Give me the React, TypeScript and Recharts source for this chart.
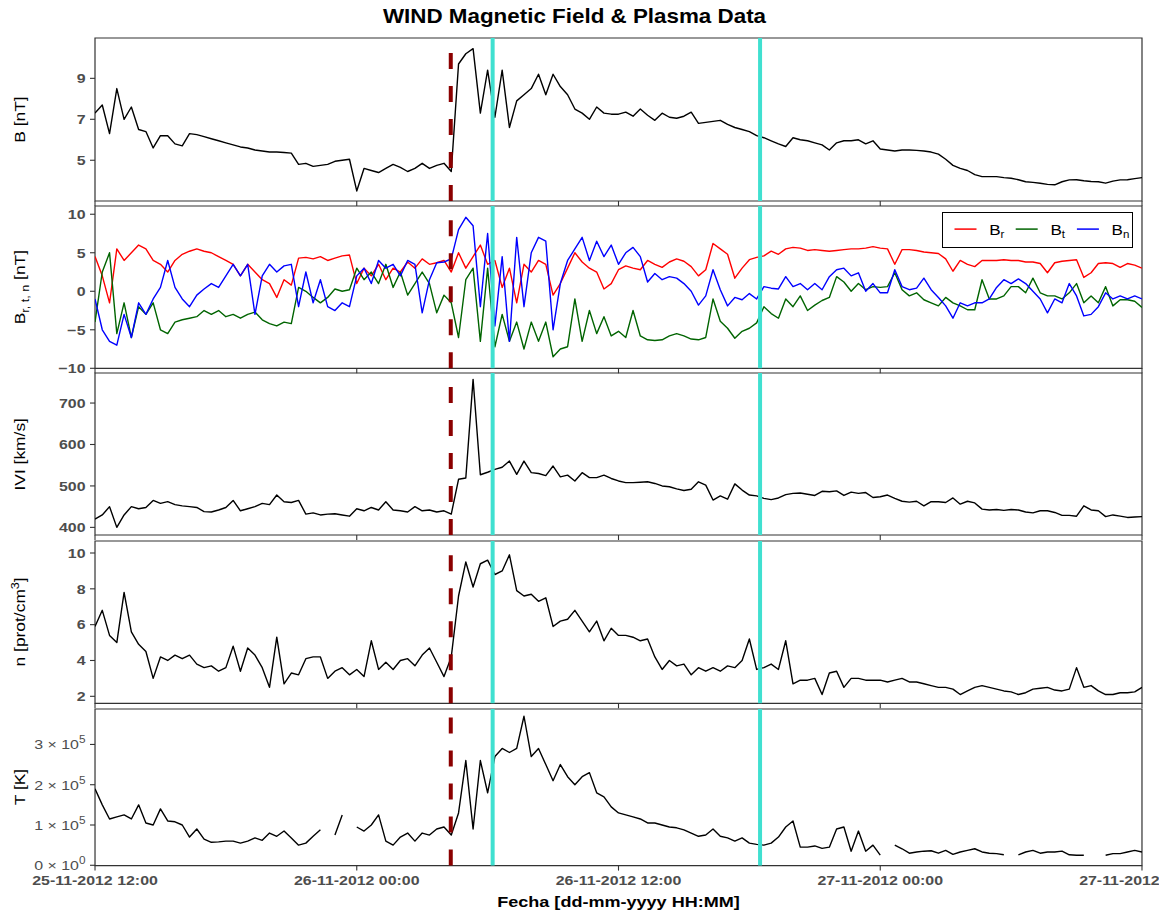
import React from 'react';
import { LineChart, Line, XAxis, YAxis, ReferenceLine, ReferenceArea, Legend } from 'recharts';

// ---------- time axis (hours after 25-11-2012 12:00, 20-minute samples) ----------
const STEP_HOURS = 1 / 3;
const X_TICKS = [0, 12, 24, 36, 48];
const X_TICK_LABELS = ['25-11-2012 12:00', '26-11-2012 00:00', '26-11-2012 12:00', '27-11-2012 00:00', '27-11-2012 12:00'];
const SHOCK_H = 16.31;
const ICME_START_H = 18.23;
const ICME_END_H = 30.49;

// ---------- series values ----------
const B_MAG = [
  7.3, 7.7, 6.3, 8.5, 7.0, 7.6, 6.5, 6.4, 5.6, 6.2,
  6.2, 5.8, 5.7, 6.3, 6.25, 6.15, 6.05, 5.95, 5.85, 5.75,
  5.65, 5.6, 5.5, 5.45, 5.4, 5.4, 5.38, 5.35, 4.8, 4.85,
  4.7, 4.75, 4.8, 4.95, 5.0, 5.05, 3.5, 4.6, 4.5, 4.4,
  4.6, 4.8, 4.65, 4.45, 4.6, 4.85, 4.6, 4.75, 4.85, 4.45,
  9.7, 10.2, 10.45, 7.3, 9.4, 7.1, 9.4, 6.6, 7.9, 8.2,
  8.5, 9.2, 8.2, 9.2, 8.6, 8.2, 7.5, 7.3, 7.0, 7.6,
  7.3, 7.25, 7.25, 7.35, 7.15, 7.5, 7.2, 6.95, 7.3, 7.1,
  7.05, 7.15, 7.35, 6.8, 6.85, 6.9, 6.95, 6.75, 6.6, 6.5,
  6.4, 6.2, 6.1, 5.95, 5.8, 5.67, 6.1, 6.0, 5.95, 5.85,
  5.75, 5.5, 5.85, 5.95, 5.95, 6.0, 5.8, 5.95, 5.55, 5.5,
  5.45, 5.5, 5.5, 5.48, 5.45, 5.4, 5.3, 5.05, 4.75, 4.6,
  4.5, 4.3, 4.2, 4.2, 4.2, 4.15, 4.12, 4.05, 3.95, 3.92,
  3.88, 3.82, 3.8, 3.95, 4.04, 4.05, 4.0, 3.96, 3.95, 3.88,
  3.98, 4.04, 4.05, 4.1, 4.15,
];

const B_R = [
  4.5, 2.0, -1.5, 5.5, 4.0, 5.0, 6.0, 5.5, 4.0, 3.5,
  2.5, 4.0, 4.8, 5.2, 5.5, 5.2, 5.0, 4.5, 4.0, 3.5,
  2.0, 3.5, 2.5, 1.5, 1.0, -0.8, 1.5, 0.8, 4.3, 4.4,
  4.2, 4.5, 4.0, 4.3, 4.6, 4.7, 1.0, 3.0, 2.0, 3.5,
  1.5, 3.0, 2.5, 3.8, 3.0, 4.2, 3.5, 3.7, 4.0, 2.5,
  5.0, 3.0, 4.5, 6.0, 3.5, 4.0, 0.5, 3.0, -1.5, 3.5,
  2.5, 4.0, 3.5, -0.5, 1.0, 3.0, 5.0, 3.8, 3.0, 2.5,
  0.3, 1.0, 2.8, 3.3, 3.0, 2.8, 4.0, 3.5, 3.1, 3.8,
  4.2, 3.9, 3.2, 2.0, 2.8, 6.2, 5.5, 4.8, 1.7, 3.0,
  4.1, 4.4, 4.6, 5.2, 4.8, 5.5, 5.7, 5.6, 5.3, 5.4,
  5.3, 5.2, 5.3, 5.4, 5.5, 5.5, 5.6, 5.8, 5.6, 5.5,
  3.5, 5.4, 5.4, 5.3, 5.1, 5.0, 4.9, 4.2, 2.6, 4.0,
  3.5, 3.2, 4.0, 4.0, 4.0, 4.1, 4.0, 4.0, 3.8, 3.8,
  3.6, 2.4, 3.7, 3.9, 4.0, 4.1, 1.8, 2.4, 3.6, 3.7,
  3.6, 3.1, 3.6, 3.4, 3.0,
];

const B_T = [
  -4.0, 2.5, 5.0, -5.5, -1.5, -6.0, -2.0, -3.0, -1.5, -5.0,
  -5.5, -4.0, -3.7, -3.5, -3.3, -2.5, -3.0, -2.5, -3.3, -3.0,
  -3.5, -3.0, -2.7, -3.7, -4.2, -4.5, -4.0, -4.2, 0.5, 0.0,
  -0.8, -1.5, -0.8, 0.3, 0.0, 0.2, 3.0, 1.5, 2.5, 1.0,
  3.5, 0.5, 2.5, -0.5, 1.0, 2.5, 1.0, -2.8, -0.5, -1.5,
  -6.0, 1.5, 3.0, -6.5, 3.0, -7.2, -3.0, -6.5, -4.0, -7.5,
  -4.0, -6.5, -4.0, -8.5, -7.5, -7.2, -1.0, -6.5, -2.5, -5.5,
  -3.3, -5.8, -5.2, -6.0, -2.5, -5.8, -6.3, -6.4, -6.3, -5.8,
  -5.5, -5.8, -6.2, -6.3, -6.0, -1.0, -3.9, -4.8, -6.1, -5.2,
  -4.8, -4.1, -2.0, -2.9, -3.5, -1.0, -2.0, -0.6, -2.5, -1.8,
  -1.2, -0.8, 1.9, 1.2, 0.0, 1.0, 0.2, 0.6, 0.5, 0.6,
  2.4, 0.2, -0.6, -0.2, -1.1, -1.5, -1.9, -0.8, -1.5, -1.9,
  -2.4, -2.4, 1.5, -1.0, -1.0, -0.6, 0.6, 0.6, -0.2, 1.7,
  -0.2, -0.6, -0.6, -1.0, -0.2, 1.0, -1.5, -0.6, -1.5, 0.6,
  -1.9, -1.1, -1.1, -1.3, -2.1,
];

const B_N = [
  -1.0, -5.0, -6.5, -7.0, -3.0, -6.0, -1.5, -3.0, -1.0, 0.5,
  4.0, 0.5, -1.0, -2.0, -0.5, 0.3, 1.0, 0.5, 2.0, 3.5,
  2.0, 3.5, -3.0, 2.0, 3.5, 2.5, 3.3, 3.5, -2.0, 2.5,
  -1.5, 1.5, -2.0, -2.5, -1.5, -2.0, 2.0, 3.0, 1.0, 4.0,
  3.0, 3.5, 2.0, 4.0, 3.5, -2.8, 1.5, 3.7, 3.8, 4.2,
  8.0, 9.6, 8.5, -2.0, 7.5, -4.5, 4.5, -6.5, 7.0, -2.0,
  5.0, 7.0, 6.5, -5.0, 1.0, 4.0, 5.5, 7.0, 4.0, 6.5,
  4.5, 6.0, 3.5, 5.0, 5.7, 4.5, 1.2, 2.3, 1.5, 1.9,
  1.7, 1.0, 0.0, -1.8, -0.6, 2.8, 0.2, -1.9, -0.8, -1.1,
  -0.3, -1.0, 0.6, 0.4, 0.3, 1.9, 0.6, 1.0, 0.2, 1.0,
  0.2, 1.9, 2.8, 3.0, 2.0, 2.4, 0.0, 1.0, -0.2, -0.2,
  2.8, 0.6, 0.2, 0.4, 1.7, 0.2, -0.8, -1.9, -3.5, -1.5,
  -1.9, -1.5, -1.5, -1.0, 0.5, 1.5, 1.0, 1.6, 1.0, 0.0,
  -1.0, -2.8, -1.0, -1.5, 1.0, -0.6, -3.2, -3.0, -2.0, -0.2,
  -1.0, -0.6, -1.0, -0.6, -1.0,
];

const V_SW = [
  420, 430, 450, 400, 430, 450, 445, 448, 465, 458,
  462, 455, 452, 450, 448, 438, 437, 442, 448, 465,
  440, 445, 450, 458, 455, 478, 462, 460, 465, 432,
  435, 430, 432, 433, 430, 427, 445, 440, 448, 442,
  462, 442, 440, 437, 450, 440, 442, 437, 440, 432,
  516, 519, 757, 527, 533, 540, 545, 560, 528, 560,
  532, 530, 525, 548, 522, 526, 512, 532, 520, 520,
  526, 518, 512, 508, 508, 509, 510, 506, 500, 498,
  493, 489, 492, 510, 502, 466, 476, 468, 505, 490,
  478, 476, 470, 467, 471, 479, 482, 483, 480, 477,
  487, 486, 488, 477, 485, 482, 484, 472, 474, 478,
  470, 463, 461, 463, 452, 462, 462, 460, 471, 456,
  463, 459, 444, 442, 443, 441, 443, 442, 437, 435,
  440, 440, 436, 429, 429, 427, 452, 442, 440, 426,
  430, 427, 424, 425, 426,
];

const N_P = [
  5.9, 6.8, 5.4, 5.0, 7.8, 5.6, 4.9, 4.5, 3.0, 4.2,
  4.0, 4.3, 4.1, 4.3, 3.8, 3.6, 3.7, 3.4, 3.6, 4.8,
  3.4, 4.7, 4.3, 3.6, 2.5, 5.3, 2.7, 3.3, 3.2, 4.1,
  4.2, 4.2, 3.0, 3.4, 3.6, 3.2, 3.5, 3.1, 5.1, 3.5,
  3.9, 3.5, 4.0, 4.1, 3.7, 4.3, 4.7, 3.9, 3.1, 4.2,
  7.6, 9.5, 8.1, 9.4, 9.6, 8.8, 9.0, 9.9, 7.9, 7.6,
  7.7, 7.3, 7.5, 5.9, 6.2, 6.3, 6.8, 6.2, 5.6, 6.2,
  5.1, 5.8, 5.4, 5.4, 5.3, 5.1, 5.2, 4.2, 3.5, 4.0,
  3.7, 3.8, 3.2, 3.6, 3.4, 3.6, 3.4, 3.7, 3.6, 4.0,
  5.2, 3.5, 3.6, 3.8, 3.5, 5.1, 2.7, 2.9, 2.9, 3.0,
  2.1, 3.3, 3.4, 2.5, 3.0, 3.0, 2.9, 2.9, 2.9, 2.8,
  2.9, 3.0, 2.8, 2.8, 2.7, 2.6, 2.5, 2.5, 2.4, 2.1,
  2.3, 2.5, 2.6, 2.5, 2.4, 2.3, 2.25, 2.1, 2.2, 2.4,
  2.45, 2.5, 2.35, 2.3, 2.4, 3.6, 2.5, 2.6, 2.3, 2.1,
  2.1, 2.2, 2.2, 2.25, 2.5,
];

const T_P: (number | null)[] = [
  1.9e5, 1.5e5, 1.15e5, 1.2e5, 1.25e5, 1.15e5, 1.5e5, 1.05e5, 1.0e5, 1.4e5,
  1.1e5, 1.08e5, 1.0e5, 0.7e5, 0.9e5, 0.65e5, 0.57e5, 0.58e5, 0.6e5, 0.6e5,
  0.55e5, 0.6e5, 0.68e5, 0.62e5, 0.8e5, 0.72e5, 0.85e5, 0.68e5, 0.5e5, 0.55e5,
  0.72e5, 0.88e5, null, 0.75e5, 1.25e5, null, 0.95e5, 0.85e5, 1.0e5, 1.25e5,
  0.6e5, 0.5e5, 0.7e5, 0.8e5, 0.6e5, 0.8e5, 0.75e5, 0.9e5, 0.95e5, 0.75e5,
  1.3e5, 2.6e5, 0.9e5, 2.6e5, 1.8e5, 2.7e5, 2.9e5, 2.8e5, 2.9e5, 3.7e5,
  2.7e5, 2.9e5, 2.5e5, 2.1e5, 2.5e5, 2.2e5, 2.0e5, 2.2e5, 2.3e5, 1.8e5,
  1.7e5, 1.45e5, 1.3e5, 1.25e5, 1.2e5, 1.15e5, 1.05e5, 1.05e5, 1.0e5, 0.95e5,
  0.93e5, 0.88e5, 0.8e5, 0.72e5, 0.75e5, 0.9e5, 0.72e5, 0.68e5, 0.6e5, 0.68e5,
  0.55e5, 0.52e5, 0.5e5, 0.55e5, 0.7e5, 0.95e5, 1.1e5, 0.45e5, 0.45e5, 0.48e5,
  0.42e5, 0.45e5, 0.9e5, 0.95e5, 0.35e5, 0.85e5, 0.35e5, 0.5e5, 0.25e5, null,
  0.5e5, 0.41e5, 0.3e5, 0.33e5, 0.35e5, 0.36e5, 0.3e5, 0.37e5, 0.27e5, 0.33e5,
  0.37e5, 0.41e5, 0.33e5, 0.3e5, 0.29e5, 0.26e5, null, 0.26e5, 0.33e5, 0.37e5,
  0.3e5, 0.33e5, 0.33e5, 0.35e5, 0.26e5, 0.25e5, 0.25e5, null, null, 0.25e5,
  0.29e5, 0.29e5, 0.33e5, 0.37e5, 0.33e5,
];

// ---------- y-axis ticks ----------
const B_TICKS = [5, 7, 9];
const BRTN_TICKS = [-10, -5, 0, 5, 10];
const V_TICKS = [400, 500, 600, 700];
const N_TICKS = [2, 4, 6, 8, 10];
const T_TICKS = [0, 100000, 200000, 300000];
const LEGEND_ORDER = ['r', 't', 'n'];

// ---------- table for the library ----------
const ROWS = B_MAG.map((b, i) => ({
  t: i * STEP_HOURS,
  B: b,
  Br: B_R[i],
  Bt: B_T[i],
  Bn: B_N[i],
  V: V_SW[i],
  N: N_P[i],
  T: T_P[i],
}));

// ---------- layout / style ----------
const W = 1159;
const PLOT_LEFT = 95;
const PLOT_RIGHT = 1142;
const PAD = 2;
const FONT = '"Liberation Sans", Arial, Helvetica, sans-serif';
const SX = 1.18;
const FRAME = '#333333';
const TICK_TEXT = '#4D4D4D';

type LineCfg = { key: string; color: string; name?: string };
type PanelCfg = {
  id: string;
  top: number;
  bottom: number;
  domain: [number, number];
  ticks: number[];
  sci?: boolean;
  lines: LineCfg[];
  legend?: boolean;
};

const PANELS: PanelCfg[] = [
  { id: 'B', top: 38, bottom: 201, domain: [3.01, 10.97], ticks: B_TICKS, lines: [{ key: 'B', color: '#000000' }] },
  {
    id: 'BRTN', top: 206, bottom: 368.3, domain: [-10, 11.07], ticks: BRTN_TICKS, legend: true,
    lines: [
      { key: 'Br', color: '#FF0000', name: 'r' },
      { key: 'Bt', color: '#006400', name: 't' },
      { key: 'Bn', color: '#0000FF', name: 'n' },
    ],
  },
  { id: 'V', top: 373.3, bottom: 535.3, domain: [381.6, 772.5], ticks: V_TICKS, lines: [{ key: 'V', color: '#000000' }] },
  { id: 'N', top: 540.7, bottom: 703, domain: [1.61, 10.67], ticks: N_TICKS, lines: [{ key: 'N', color: '#000000' }] },
  { id: 'T', top: 708.7, bottom: 865.3, domain: [-800, 388000], ticks: T_TICKS, sci: true, lines: [{ key: 'T', color: '#000000' }] },
];

const fmtNum = (v: number) => (v < 0 ? '\u2212' + Math.abs(v) : String(v));

function YTick(props: any) {
  const { x, y, payload, sci } = props;
  const v = payload.value as number;
  if (sci) {
    const exp = v === 0 ? 0 : Math.round(Math.log10(Math.abs(v)));
    const mant = v === 0 ? 0 : Math.round(v / Math.pow(10, exp));
    return (
      <text transform={`translate(${x},${y}) scale(${SX},1)`} textAnchor="end" fontSize={13.5} fill={TICK_TEXT} fontFamily={FONT}>
        <tspan dy={4.8}>{`${mant} \u00D7 10`}</tspan>
        <tspan dy={-6} fontSize={10}>{String(exp)}</tspan>
      </text>
    );
  }
  return (
    <text transform={`translate(${x},${y}) scale(${SX},1)`} textAnchor="end" dy={4.8} fontSize={13.5} fontWeight="bold" fill={TICK_TEXT} fontFamily={FONT}>
      {fmtNum(v)}
    </text>
  );
}

function XTick(props: any) {
  const { x, y, payload, show } = props;
  if (!show) return <g />;
  const idx = X_TICKS.indexOf(payload.value);
  return (
    <text transform={`translate(${x},${y}) scale(${SX},1)`} textAnchor="middle" dy={12.4} fontSize={13.5} fontWeight="bold" fill={TICK_TEXT} fontFamily={FONT}>
      {X_TICK_LABELS[idx]}
    </text>
  );
}

function LegendBox(props: any) {
  const payload = [...(props.payload || [])].sort(
    (a: any, b: any) => LEGEND_ORDER.indexOf(String(a.value)) - LEGEND_ORDER.indexOf(String(b.value)),
  );
  return (
    <div style={{ width: 190.7, height: 36.6, border: '1.5px solid #000', boxSizing: 'border-box', background: '#fff' }}>
      <svg width={188} height={34} style={{ display: 'block' }}>
        {payload.map((p: any, k: number) => (
          <g key={k} transform={`translate(${k * 61.2},0)`}>
            <line x1={11.5} x2={33.5} y1={16.1} y2={16.1} stroke={p.color} strokeWidth={1.5} />
            <text transform="translate(46.2,21.8) scale(1.1,1)" fontSize={15.5} fontFamily={FONT} fill="#000">
              <tspan>B</tspan>
              <tspan dy={3} fontSize={10.5}>{p.value}</tspan>
            </text>
          </g>
        ))}
      </svg>
    </div>
  );
}

function Panel({ cfg, last }: { cfg: PanelCfg; last: boolean }) {
  const plotH = cfg.bottom - cfg.top;
  const xH = last ? 34 : 14;
  const H = PAD + plotH + xH;
  return (
    <div style={{ position: 'absolute', left: 0, top: cfg.top - PAD, width: W, height: H }}>
      <LineChart width={W} height={H} data={ROWS} margin={{ top: PAD, right: W - PLOT_RIGHT, bottom: 0, left: 0 }}>
        <XAxis
          dataKey="t"
          type="number"
          domain={[0, 48]}
          ticks={X_TICKS}
          interval={0}
          allowDataOverflow
          axisLine={false}
          tickSize={5}
          tickMargin={2}
          tickLine={{ stroke: FRAME, strokeWidth: 1.1 }}
          height={xH}
          tick={(p: any) => <XTick {...p} show={last} />}
        />
        <YAxis
          type="number"
          domain={cfg.domain}
          ticks={cfg.ticks}
          interval={0}
          allowDataOverflow
          width={PLOT_LEFT}
          axisLine={false}
          tickSize={5}
          tickMargin={4.5}
          tickLine={{ stroke: FRAME, strokeWidth: 1.1 }}
          tick={(p: any) => <YTick {...p} sci={cfg.sci} />}
        />
        <ReferenceArea x1={0} x2={48} y1={cfg.domain[0]} y2={cfg.domain[1]} fill="none" fillOpacity={0} stroke={FRAME} strokeWidth={1.2} ifOverflow="visible" />
        {cfg.lines.map((l) => (
          <Line
            key={l.key}
            type="linear"
            dataKey={l.key}
            name={l.name || l.key}
            stroke={l.color}
            strokeWidth={1.4}
            strokeLinejoin="round"
            dot={false}
            activeDot={false}
            connectNulls={false}
            isAnimationActive={false}
          />
        ))}
        <ReferenceLine x={SHOCK_H} stroke="#8B0000" strokeWidth={4} strokeDasharray="16 17" />
        <ReferenceLine x={ICME_START_H} stroke="#40E0D0" strokeWidth={4} />
        <ReferenceLine x={ICME_END_H} stroke="#40E0D0" strokeWidth={4} />
        {cfg.legend && (
          <Legend
            layout="horizontal"
            align="center"
            verticalAlign="middle"
            wrapperStyle={{ left: 942.3, top: 211.7 - (cfg.top - PAD), width: 190.7, height: 36.6, bottom: 'auto', right: 'auto' }}
            content={(p: any) => <LegendBox {...p} />}
          />
        )}
      </LineChart>
    </div>
  );
}

function YTitle({ cfg }: { cfg: PanelCfg }) {
  const cy = (cfg.top + cfg.bottom) / 2;
  const common = {
    transform: `translate(25,${cy}) rotate(-90) scale(1.2,1)`,
    textAnchor: 'middle' as const,
    fontSize: 14.5,
    fontFamily: FONT,
    fill: '#000',
  };
  switch (cfg.id) {
    case 'B':
      return <text {...common}>B [nT]</text>;
    case 'BRTN':
      return (
        <text {...common}>
          <tspan>B</tspan>
          <tspan dy={3.5} fontSize={10.5}>r, t, n</tspan>
          <tspan dy={-3.5}> [nT]</tspan>
        </text>
      );
    case 'V':
      return <text {...common}>IVI [km/s]</text>;
    case 'N':
      return (
        <text {...common}>
          <tspan>n [prot/cm</tspan>
          <tspan dy={-6} fontSize={10.5}>3</tspan>
          <tspan dy={6}>]</tspan>
        </text>
      );
    default:
      return <text {...common}>T [K]</text>;
  }
}

export default function App() {
  return (
    <div style={{ position: 'absolute', left: 0, top: 0, width: W, height: 913, background: '#fff', overflow: 'hidden' }}>
      <svg width={W} height={913} style={{ position: 'absolute', left: 0, top: 0 }}>
        <text transform="translate(574.5,23.3) scale(1.12,1)" textAnchor="middle" fontSize={20} fontWeight="bold" fontFamily={FONT} fill="#000">
          WIND Magnetic Field &amp; Plasma Data
        </text>
        {PANELS.map((p) => (
          <YTitle key={p.id} cfg={p} />
        ))}
        <text transform={`translate(${(PLOT_LEFT + PLOT_RIGHT) / 2},906.5) scale(${SX},1)`} textAnchor="middle" fontSize={15.3} fontWeight="bold" fontFamily={FONT} fill="#000">
          Fecha [dd-mm-yyyy HH:MM]
        </text>
      </svg>
      {PANELS.map((p, i) => (
        <Panel key={p.id} cfg={p} last={i === PANELS.length - 1} />
      ))}
    </div>
  );
}
